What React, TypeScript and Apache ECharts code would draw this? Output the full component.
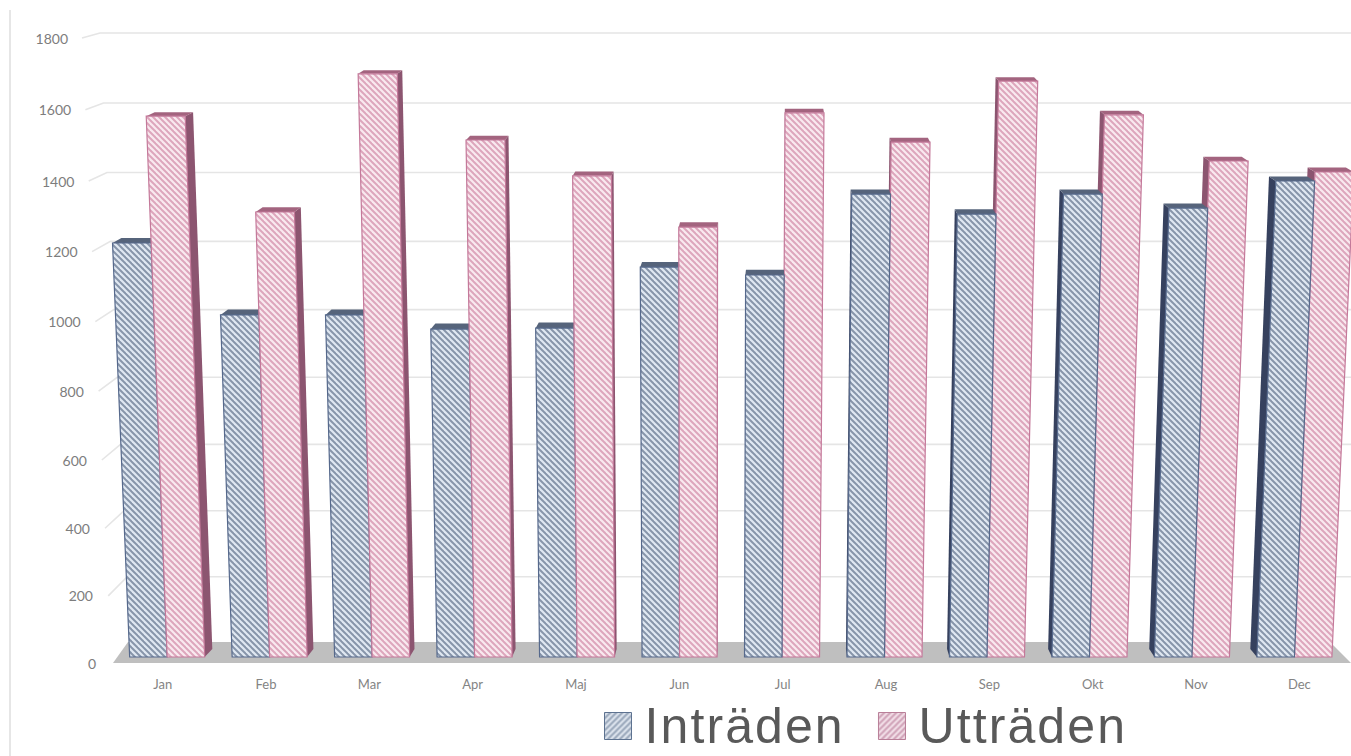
import React, { useEffect, useRef } from "react";
import * as echarts from "echarts";

const months = ["Jan", "Feb", "Mar", "Apr", "Maj", "Jun", "Jul", "Aug", "Sep", "Okt", "Nov", "Dec"];
const intraden = [1202, 993, 993, 952, 955, 1132, 1109, 1344, 1286, 1344, 1303, 1382];
const utraden = [1570, 1292, 1693, 1501, 1397, 1248, 1580, 1495, 1672, 1574, 1440, 1408];
const yTicks = [0, 200, 400, 600, 800, 1000, 1200, 1400, 1600, 1800];
const seriesNames = ["Inträden", "Utträden"];

const GRID_TOP = 38;
const GRID_H = 625;
const VP_X = 705;
const SIDE_VP_X = 770;
const SIDE_RATE = 0.0135;

function hatch(bg: string, stripe: string, forward = false) {
  const size = 6;
  const c = document.createElement("canvas");
  c.width = size;
  c.height = size;
  const g = c.getContext("2d")!;
  g.fillStyle = bg;
  g.fillRect(0, 0, size, size);
  g.strokeStyle = stripe;
  g.lineWidth = 2;
  for (const off of [-size, 0, size]) {
    g.beginPath();
    if (forward) {
      g.moveTo(off - 1, size + 1);
      g.lineTo(off + size + 1, -1);
    } else {
      g.moveTo(off - 1, -1);
      g.lineTo(off + size + 1, size + 1);
    }
    g.stroke();
  }
  return { image: c, repeat: "repeat" };
}

const bow = (t: number) => 24 * t * (1 - t);

export default function App() {
  const ref = useRef<HTMLDivElement>(null);
  useEffect(() => {
    document.body.style.margin = "0";
    const chart = echarts.init(ref.current!, undefined, { renderer: "svg" });
    const blueFill = hatch("#e0e8f2", "#8795aa");
    const pinkFill = hatch("#f9e9ef", "#dda6bc");
    const blueIcon = hatch("#dfe6ef", "#98a6b9", true);
    const pinkIcon = hatch("#f3e1e9", "#cfa0b6", true);
    const palettes = [
      { fill: blueFill, border: "#56698c", top: "#56647b", side: "#36415e" },
      { fill: pinkFill, border: "#c4799a", top: "#a3647f", side: "#8c5570" },
    ];

    const barRender = (s: number) => (_p: any, api: any) => {
      const i = api.value(0);
      const v = api.value(1);
      const p = api.coord([i, v]);
      const p0 = api.coord([i, 0]);
      const t = (p0[1] - p[1]) / GRID_H;
      const yTop = p[1] - 6 + 5 * t;
      const yBase = p0[1] - 6;
      const xc = VP_X + (p[0] - VP_X) * 0.9917;
      const w = 37.5;
      const xL = s === 0 ? xc - w : xc;
      const xR = s === 0 ? xc : xc + w;
      const h = yBase - yTop;
      const wx = (x: number, hh: number) => VP_X + (x - VP_X) * (1 + 7.2e-5 * hh);
      const bx = (x: number, hh: number) => wx(x, hh) + (SIDE_VP_X - wx(x, hh)) * SIDE_RATE;
      const dy = 8 - h / 135;
      const isLeft = xc < SIDE_VP_X;
      const e = isLeft ? xR : xL;
      const pal = palettes[s];
      const z2 = isLeft ? (s === 1 ? 2 : 1) : s === 1 ? 1 : 2;
      return {
        type: "group",
        children: [
          {
            type: "polygon",
            z2,
            shape: {
              points: [
                [wx(e, 0), yBase],
                [wx(e, h), yTop],
                [bx(e, h), yTop - dy],
                [bx(e, 0), yBase - 8],
              ],
            },
            style: { fill: pal.side },
          },
          {
            type: "polygon",
            z2,
            shape: {
              points: [
                [wx(xL, h), yTop],
                [wx(xR, h), yTop],
                [bx(xR, h), yTop - dy],
                [bx(xL, h), yTop - dy],
              ],
            },
            style: { fill: pal.top },
          },
          {
            type: "polygon",
            z2,
            shape: {
              points: [
                [wx(xL, 0), yBase],
                [wx(xR, 0), yBase],
                [wx(xR, h), yTop],
                [wx(xL, h), yTop],
              ],
            },
            style: { fill: pal.fill, stroke: pal.border, lineWidth: 1.2 },
          },
        ],
      };
    };

    const gridRender = (_p: any, api: any) => {
      const v = api.value(1);
      const t = v / 1800;
      const labelY = api.coord([0, v])[1] + bow(t);
      const wallY = 642 - 609 * t + bow(t);
      const leftX = 82 + (labelY - GRID_TOP) * 0.047;
      const cornerX = 100 + (wallY - 33) * 0.05;
      return {
        type: "polyline",
        shape: { points: [[leftX, labelY], [cornerX, wallY], [1351, wallY]] },
        style: { stroke: "#e5e5e5", lineWidth: 1.6, fill: "none" },
      };
    };

    const rich: Record<string, any> = {};
    yTicks.forEach((v) => {
      const t = v / 1800;
      const y = GRID_TOP + GRID_H * (1 - t) + bow(t);
      const rightEdge = 68 + (y - GRID_TOP) * 0.0448;
      rich["v" + v] = {
        padding: [2 * bow(t), 111 - rightEdge, 0, 0],
        fontFamily: "Lato",
        fontSize: 14,
        color: "#7d7d7d",
      };
    });

    chart.setOption({
      animation: false,
      backgroundColor: "#ffffff",
      grid: { left: 111, top: GRID_TOP, width: 1242, height: GRID_H, containLabel: false },
      xAxis: {
        type: "category",
        data: months,
        axisLine: { show: false },
        axisTick: { show: false },
        axisLabel: { margin: 14, fontFamily: "Lato", fontSize: 13, color: "#848484", interval: 0 },
      },
      yAxis: {
        type: "value",
        min: 0,
        max: 1800,
        interval: 200,
        splitLine: { show: false },
        axisLine: { show: false },
        axisTick: { show: false },
        axisLabel: {
          margin: 0,
          formatter: (val: number) => `{v${val}|${val}}`,
          rich,
        },
      },
      legend: {
        left: 599,
        top: 696,
        itemWidth: 27,
        itemHeight: 27,
        itemGap: 50,
        icon: "rect",
        selectedMode: false,
        textStyle: {
          fontFamily: "Liberation Sans",
          fontSize: 50,
          color: "#595959",
          padding: [0, 0, 6, 8],
        },
        data: [
          { name: seriesNames[0], itemStyle: { color: blueIcon, borderColor: "#5d7290", borderWidth: 1 } },
          { name: seriesNames[1], itemStyle: { color: pinkIcon, borderColor: "#b97f98", borderWidth: 1 } },
        ],
      },
      graphic: [
        {
          type: "polygon",
          z: 1,
          shape: { points: [[113, 663], [128, 642], [1330, 642], [1351, 663]] },
          style: { fill: "#bfbfbf" },
        },
        {
          type: "rect",
          z: 1,
          shape: { x: 9, y: 10, width: 2, height: 746 },
          style: { fill: "#e6e6e6" },
        },
      ],
      series: [
        {
          type: "custom",
          name: "grid",
          z: 0,
          silent: true,
          clip: false,
          renderItem: gridRender,
          data: yTicks.filter((v) => v > 0).map((v) => [0, v]),
        },
        {
          type: "custom",
          name: seriesNames[0],
          z: 2,
          clip: false,
          itemStyle: { color: "#b9c5d3" },
          renderItem: barRender(0),
          data: intraden.map((v, i) => [i, v]),
        },
        {
          type: "custom",
          name: seriesNames[1],
          z: 2,
          clip: false,
          itemStyle: { color: "#ecc8d6" },
          renderItem: barRender(1),
          data: utraden.map((v, i) => [i, v]),
        },
      ],
    });
    return () => chart.dispose();
  }, []);
  return (
    <>
      <style>{`svg text[style*="50px"]{letter-spacing:2.1px}`}</style>
      <div ref={ref} style={{ position: "absolute", left: 0, top: 0, width: 1351, height: 756 }} />
    </>
  );
}
